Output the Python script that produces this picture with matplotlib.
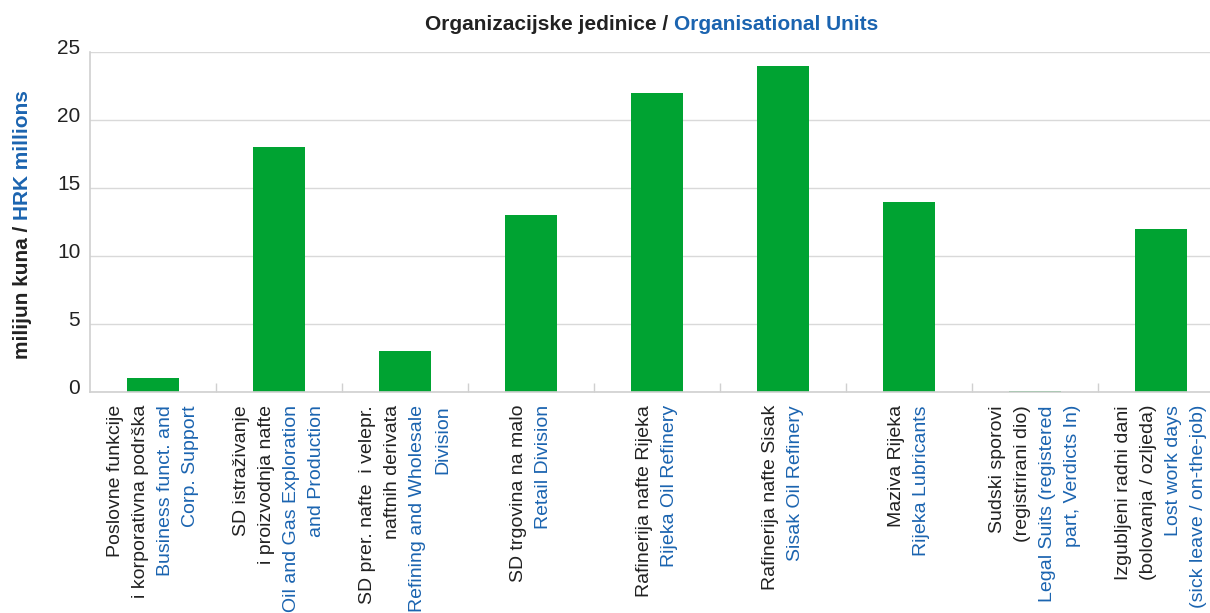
import matplotlib
matplotlib.use("Agg")
import matplotlib.pyplot as plt
from matplotlib.transforms import offset_copy, blended_transform_factory, ScaledTranslation
import numpy as np

plt.rcParams['font.family'] = ['Liberation Sans', 'DejaVu Sans']

labels_hr = [
    ["Poslovne funkcije", "i korporativna podrška"],
    ["SD istraživanje", "i proizvodnja nafte"],
    ["SD prer. nafte  i velepr.", "naftnih derivata"],
    ["SD trgovina na malo"],
    ["Rafinerija nafte Rijeka"],
    ["Rafinerija nafte Sisak"],
    ["Maziva Rijeka"],
    ["Sudski sporovi", "(registrirani dio)"],
    ["Izgubljeni radni dani", "(bolovanja / ozljeda)"],
]
labels_en = [
    ["Business funct. and", "Corp. Support"],
    ["Oil and Gas Exploration", "and Production"],
    ["Refining and Wholesale", "Division"],
    ["Retail Division"],
    ["Rijeka Oil Refinery"],
    ["Sisak Oil Refinery"],
    ["Rijeka Lubricants"],
    ["Legal Suits (registered", "part, Verdicts In)"],
    ["Lost work days", "(sick leave / on-the-job)"],
]
values = [1, 18, 3, 13, 22, 24, 14, 0.08, 12]
yticks = [0, 5, 10, 15, 20, 25]

GREEN = "#00A332"
BLUE = "#1B64B0"
DARK = "#222222"

W, H = 1210, 613
fig = plt.figure(figsize=(W / 100, H / 100), dpi=100)
ax = fig.add_axes([90 / W, 1 - 392 / H, 1134 / W, 340 / H])

x = np.arange(len(values))
ax.bar(x, values, width=0.405, color=GREEN, zorder=2, linewidth=0)
ax.set_xlim(-0.5, len(values) - 0.5)
ax.set_ylim(0, 25)
ax.set_yticks(yticks)
ax.set_yticklabels([str(t) for t in yticks], fontsize=15, color=DARK)
ax.tick_params(axis='y', length=0, pad=7)
for lab in ax.get_yticklabels():
    lab.set_transform(lab.get_transform() + ScaledTranslation(0, 6 / 100, fig.dpi_scale_trans))
ax.grid(axis='y', color="#d9d9d9", linewidth=1, zorder=0)
ax.set_axisbelow(True)
for s in ['top', 'right']:
    ax.spines[s].set_visible(False)
for s in ['left', 'bottom']:
    ax.spines[s].set_color("#d0d0d0")
    ax.spines[s].set_linewidth(1.2)
ax.set_xticks([])
ax.set_xticks(np.arange(len(values) - 1) + 0.5, minor=True)
ax.tick_params(axis='x', which='minor', direction='in', length=6.5, color="#d0d0d0", width=1)
ax.set_xticklabels([], minor=True)

# category labels
trans_base = blended_transform_factory(ax.transData, ax.transAxes)
spacing = 25
for i in range(len(values)):
    lines = [(t, DARK) for t in labels_hr[i]] + [(t, BLUE) for t in labels_en[i]]
    n = len(lines)
    for j, (t, c) in enumerate(lines):
        dx = (j - (n - 1) / 2) * spacing
        tr = offset_copy(trans_base, fig=fig, x=dx, y=-13, units='dots')
        ax.text(i, 0, t, transform=tr, rotation=90, rotation_mode='anchor',
                ha='right', va='center', fontsize=14, color=c, clip_on=False)

# title
t1 = fig.text(0, 0, "Organizacijske jedinice / ", fontsize=15, fontweight='bold', color=DARK)
t2 = fig.text(0, 0, "Organisational Units", fontsize=15, fontweight='bold', color=BLUE)
fig.canvas.draw()
r = fig.canvas.get_renderer()
w1 = t1.get_window_extent(r).width
w2 = t2.get_window_extent(r).width
cx = 652
x0 = cx - (w1 + w2) / 2
yt = H - 30
t1.set_position((x0 / W, yt / H))
t2.set_position(((x0 + w1) / W, yt / H))

# y label
l1 = fig.text(0, 0, "milijun kuna / ", fontsize=15, fontweight='bold', color=DARK, rotation=90)
l2 = fig.text(0, 0, "HRK millions", fontsize=15, fontweight='bold', color=BLUE, rotation=90)
fig.canvas.draw()
h1 = l1.get_window_extent(r).height
h2 = l2.get_window_extent(r).height
cy = H - 221
y0 = cy - (h1 + h2) / 2
xl = 13
l1.set_position((xl / W, y0 / H))
l2.set_position((xl / W, (y0 + h1) / H))

fig.savefig("out.png", dpi=100)
